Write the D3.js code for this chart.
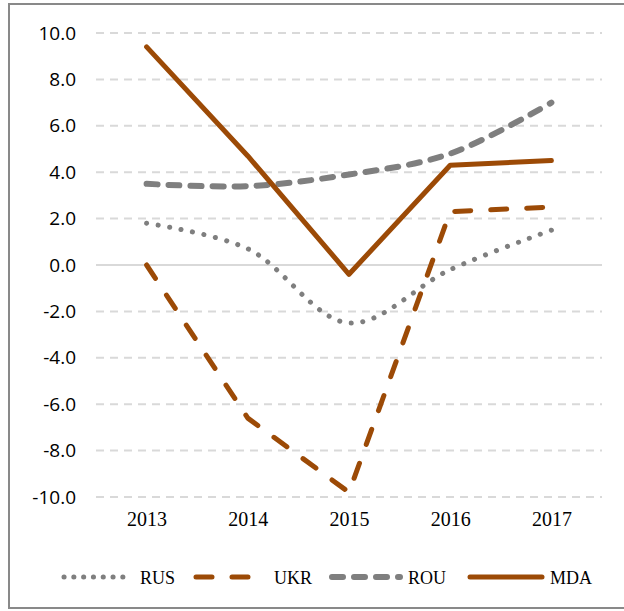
<!DOCTYPE html>
<html>
<head>
<meta charset="utf-8">
<script src="https://cdn.jsdelivr.net/npm/d3@7"></script>
<style>
  body { margin: 0; background: #fff; }
  svg { display: block; }
</style>
</head>
<body>
<div id="chart-area"></div>
<script>
'use strict';

let years = ['2013', '2014', '2015', '2016', '2017'];
let rus = [1.8, 0.7, -2.5, -0.2, 1.5];
let ukr = [0.0, -6.6, -9.8, 2.3, 2.5];
let rou = [3.5, 3.4, 3.9, 4.8, 7.0];
let mda = [9.4, 4.7, -0.4, 4.3, 4.5];
let yTicks = [-10, -8, -6, -4, -2, 0, 2, 4, 6, 8, 10];

let brown = '#9c4a06';
let grey = '#7f7f7f';

let series = [
    {name: 'RUS', values: rus, color: grey, width: 5, dash: '0.1,11.6', smooth: true},
    {name: 'UKR', values: ukr, color: brown, width: 5, dash: '16,20', smooth: false},
    {name: 'ROU', values: rou, color: grey, width: 6, dash: '11,11', smooth: true},
    {name: 'MDA', values: mda, color: brown, width: 5, dash: null, smooth: false},
];

let W = 624, H = 611;

let svg = d3.select('#chart-area').append('svg')
    .attr('width', W)
    .attr('height', H);

// frame (right edge is cut off in the original)
svg.append('path')
    .attr('d', 'M' + (W + 5) + ',4 H9 V608 H' + (W + 5))
    .attr('fill', 'none')
    .attr('stroke', '#898989')
    .attr('stroke-width', 2);

let x = d3.scalePoint()
    .domain(years)
    .range([96, 602])
    .padding(0.5);

let y = d3.scaleLinear()
    .domain([-10, 10])
    .range([497, 33]);

// grid
svg.append('g')
    .selectAll('line')
    .data(yTicks)
    .enter()
    .append('line')
        .attr('x1', 96)
        .attr('x2', 602)
        .attr('y1', d => y(d))
        .attr('y2', d => y(d))
        .attr('stroke', '#d9d9d9')
        .attr('stroke-width', 2)
        .attr('stroke-dasharray', d => d === 0 ? null : '8,6');

let y_axis = d3.axisLeft(y)
    .tickValues(yTicks)
    .tickSize(0)
    .tickPadding(0)
    .tickFormat(d => d.toFixed(1)); // plain hyphen, like the original

let gy = svg.append('g')
    .attr('transform', 'translate(76,0)')
    .call(y_axis);
gy.select('.domain').remove();
gy.selectAll('text')
    .attr('font-family', 'Open Sans, sans-serif')
    .attr('font-size', '19px')
    .attr('fill', '#000');

let x_axis = d3.axisBottom(x)
    .tickSize(0)
    .tickPadding(0);

let gx = svg.append('g')
    .attr('transform', 'translate(0,512)')
    .call(x_axis);
gx.select('.domain').remove();
gx.selectAll('text')
    .attr('font-family', 'Liberation Serif, serif')
    .attr('font-size', '20px')
    .attr('fill', '#000');

series.forEach((s) => {
    let line = d3.line()
        .x((d, i) => x(years[i]))
        .y(d => y(d))
        .curve(s.smooth ? d3.curveCatmullRom.alpha(0.5) : d3.curveLinear);
    svg.append('path')
        .datum(s.values)
        .attr('d', line)
        .attr('fill', 'none')
        .attr('stroke', s.color)
        .attr('stroke-width', s.width)
        .attr('stroke-linecap', 'round')
        .attr('stroke-linejoin', 'round')
        .attr('stroke-dasharray', s.dash);
});

// legend
let legendX = [64, 196, 332, 470];
let legendLen = [68, 60, 68, 72];
let legend = svg.append('g')
    .attr('transform', 'translate(0,577)');

series.forEach((s, i) => {
    legend.append('line')
        .attr('x1', legendX[i])
        .attr('x2', legendX[i] + legendLen[i])
        .attr('stroke', s.color)
        .attr('stroke-width', s.width)
        .attr('stroke-linecap', 'round')
        .attr('stroke-dasharray', s.name === 'RUS' ? '0.1,9.7' : s.dash);
    legend.append('text')
        .attr('x', legendX[i] + legendLen[i] + (s.name === 'UKR' ? 18 : 8))
        .attr('y', 7)
        .attr('font-family', 'Liberation Serif, serif')
        .attr('font-size', '18px')
        .text(s.name);
});
</script>
</body>
</html>
